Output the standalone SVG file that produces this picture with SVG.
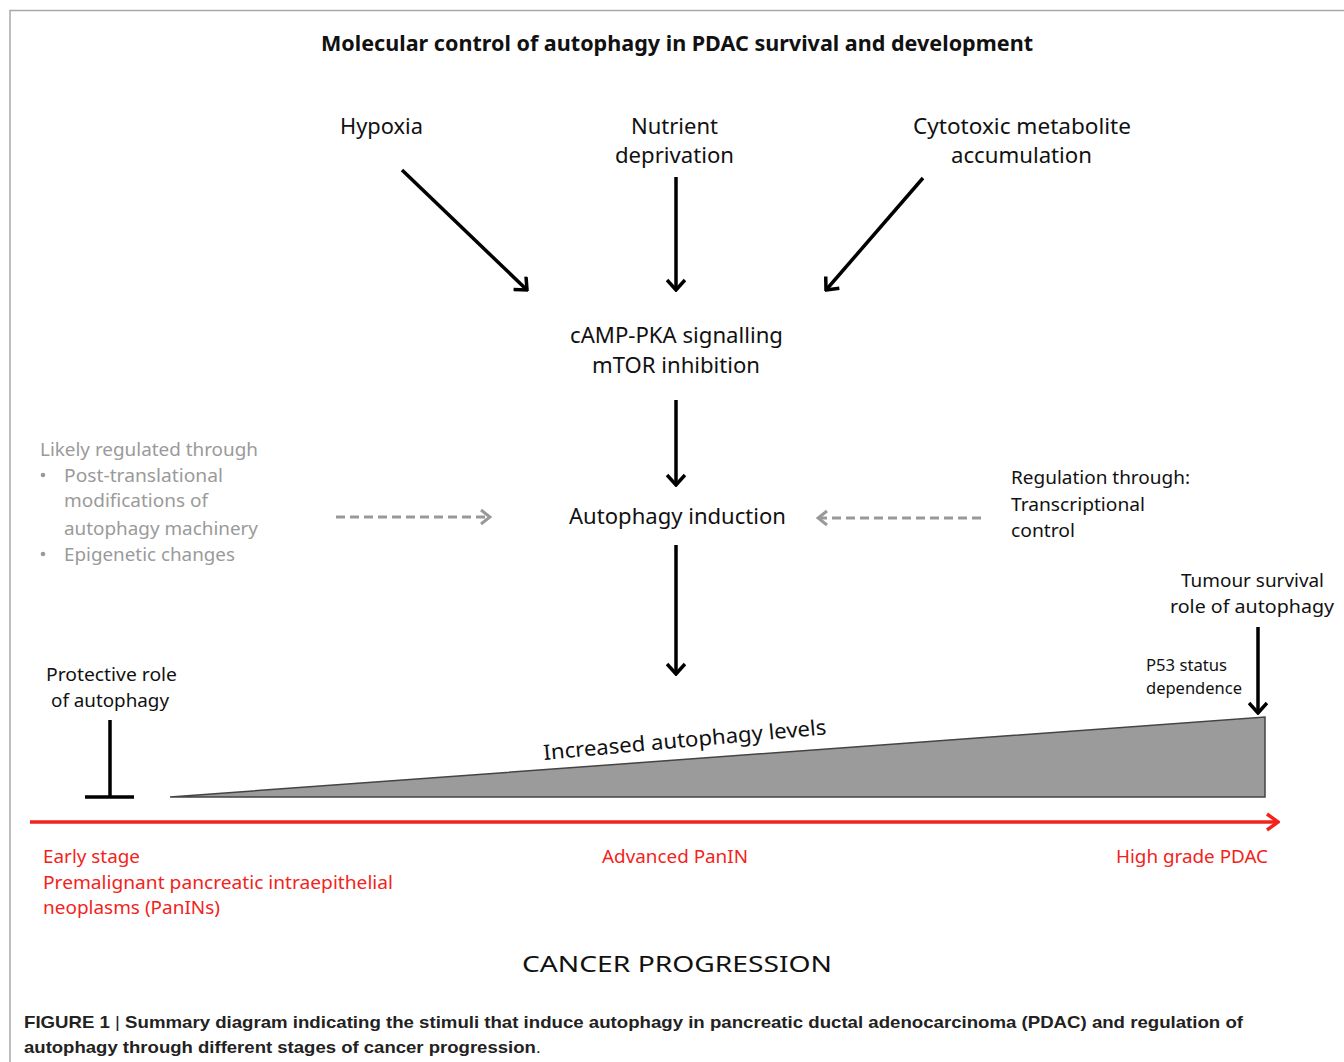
<svg xmlns="http://www.w3.org/2000/svg" width="1344" height="1062" viewBox="0 0 1344 1062">
<style>
.t{font-family:"Noto Sans","Open Sans",sans-serif;font-size:21px;fill:#111}
.g{fill:#9a9a9a;font-size:18px}
.r{fill:#f2231b;font-size:18px}
.m{font-size:18px}
.s{font-size:16px}
.cap{font-family:"Liberation Sans",Arial,sans-serif;font-size:17px;font-weight:bold;fill:#222}
.ar{stroke:#000;stroke-width:3.5;fill:none}
.da{stroke:#999;stroke-width:3;fill:none;stroke-dasharray:9 5}
</style>
<defs>
<marker id="mb" viewBox="-12 -10 14 20" markerWidth="14" markerHeight="20" refX="0" refY="0" orient="auto" markerUnits="userSpaceOnUse">
<path d="M-10,-9 L0,0 L-10,9" fill="none" stroke="#000" stroke-width="3.5"/>
</marker>
<marker id="mg" viewBox="-12 -10 14 20" markerWidth="14" markerHeight="20" refX="0" refY="0" orient="auto" markerUnits="userSpaceOnUse">
<path d="M-9,-7 L0,0 L-9,7" fill="none" stroke="#999" stroke-width="3"/>
</marker>
<marker id="mr" viewBox="-14 -10 16 20" markerWidth="16" markerHeight="20" refX="0" refY="0" orient="auto" markerUnits="userSpaceOnUse">
<path d="M-11,-8 L0,0 L-11,8" fill="none" stroke="#f2231b" stroke-width="3.5"/>
</marker>
</defs>
<rect width="1344" height="1062" fill="#fff"/>
<path d="M10,1062 V10.5 H1344" fill="none" stroke="#a8a8a8" stroke-width="1.5"/>

<text class="t" x="321" y="51" font-weight="bold" textLength="712" lengthAdjust="spacingAndGlyphs">Molecular control of autophagy in PDAC survival and development</text>

<g id="hypoxia"><text class="t" x="340" y="134" textLength="83" lengthAdjust="spacingAndGlyphs">Hypoxia</text></g>
<g id="nutrient"><text class="t" x="631" y="134" textLength="87" lengthAdjust="spacingAndGlyphs">Nutrient</text><text class="t" x="615" y="163" textLength="119" lengthAdjust="spacingAndGlyphs">deprivation</text></g>
<g id="cytotoxic"><text class="t" x="913" y="134" textLength="218" lengthAdjust="spacingAndGlyphs">Cytotoxic metabolite</text><text class="t" x="951" y="163" textLength="141" lengthAdjust="spacingAndGlyphs">accumulation</text></g>
<g id="camp"><text class="t" x="570" y="343" textLength="213" lengthAdjust="spacingAndGlyphs">cAMP-PKA signalling</text><text class="t" x="592" y="373" textLength="168" lengthAdjust="spacingAndGlyphs">mTOR inhibition</text></g>
<g id="induction"><text class="t" x="569" y="524" textLength="217" lengthAdjust="spacingAndGlyphs">Autophagy induction</text></g>
<g id="likely">
<text class="t g" x="40" y="456" textLength="218" lengthAdjust="spacingAndGlyphs">Likely regulated through</text>
<circle cx="43" cy="475" r="2.3" fill="#9a9a9a"/>
<text class="t g" x="64" y="482" textLength="159" lengthAdjust="spacingAndGlyphs">Post-translational</text>
<text class="t g" x="64" y="507" textLength="144" lengthAdjust="spacingAndGlyphs">modifications of</text>
<text class="t g" x="64" y="535" textLength="194" lengthAdjust="spacingAndGlyphs">autophagy machinery</text>
<circle cx="43" cy="554" r="2.3" fill="#9a9a9a"/>
<text class="t g" x="64" y="561" textLength="171" lengthAdjust="spacingAndGlyphs">Epigenetic changes</text>
</g>
<g id="regulation">
<text class="t m" x="1011" y="484" textLength="179" lengthAdjust="spacingAndGlyphs">Regulation through:</text>
<text class="t m" x="1011" y="511" textLength="134" lengthAdjust="spacingAndGlyphs">Transcriptional</text>
<text class="t m" x="1011" y="537" textLength="64" lengthAdjust="spacingAndGlyphs">control</text>
</g>
<g id="tumour">
<text class="t m" x="1181" y="587" textLength="143" lengthAdjust="spacingAndGlyphs">Tumour survival</text>
<text class="t m" x="1170" y="613" textLength="164" lengthAdjust="spacingAndGlyphs">role  of autophagy</text>
</g>
<g id="p53">
<text class="t s" x="1146" y="671" textLength="81" lengthAdjust="spacingAndGlyphs">P53 status</text>
<text class="t s" x="1146" y="694" textLength="96" lengthAdjust="spacingAndGlyphs">dependence</text>
</g>
<g id="protective">
<text class="t m" x="46" y="681" textLength="131" lengthAdjust="spacingAndGlyphs">Protective role</text>
<text class="t m" x="51" y="707" textLength="118" lengthAdjust="spacingAndGlyphs">of autophagy</text>
</g>
<g id="levels">
<polygon points="170,797 1265,717 1265,797" fill="#9b9b9b" stroke="#444" stroke-width="1.5"/>
<text class="t" x="0" y="0" transform="translate(544,760) rotate(-5.2)" textLength="284" lengthAdjust="spacingAndGlyphs">Increased autophagy levels</text>
</g>
<g id="stages">
<text class="t r" x="43" y="863" textLength="97" lengthAdjust="spacingAndGlyphs">Early stage</text>
<text class="t r" x="43" y="889" textLength="350" lengthAdjust="spacingAndGlyphs">Premalignant pancreatic intraepithelial</text>
<text class="t r" x="43" y="914" textLength="177" lengthAdjust="spacingAndGlyphs">neoplasms (PanINs)</text>
<text class="t r" x="602" y="863" textLength="146" lengthAdjust="spacingAndGlyphs">Advanced PanIN</text>
<text class="t r" x="1116" y="863" textLength="152" lengthAdjust="spacingAndGlyphs">High grade PDAC</text>
</g>
<g id="progression"><text class="t" x="522" y="972" font-size="29" textLength="310" lengthAdjust="spacingAndGlyphs">CANCER PROGRESSION</text></g>

<g id="connectors">
<line class="ar" x1="402" y1="170" x2="527" y2="290" marker-end="url(#mb)"/>
<line class="ar" x1="676" y1="177" x2="676" y2="290" marker-end="url(#mb)"/>
<line class="ar" x1="923" y1="178" x2="826" y2="290" marker-end="url(#mb)"/>
<line class="ar" x1="676" y1="400" x2="676" y2="485" marker-end="url(#mb)"/>
<line class="ar" x1="676" y1="545" x2="676" y2="674" marker-end="url(#mb)"/>
<line class="ar" x1="1258" y1="627" x2="1258" y2="713" marker-end="url(#mb)"/>
<line class="da" x1="336" y1="517" x2="490" y2="517" marker-end="url(#mg)"/>
<line class="da" x1="981" y1="518" x2="818" y2="518" marker-end="url(#mg)"/>
<path d="M110,720 V797 M85,797 H134" stroke="#000" stroke-width="3.5" fill="none"/>
<line x1="30" y1="822" x2="1278" y2="822" stroke="#f2231b" stroke-width="3.5" marker-end="url(#mr)"/>
</g>

<g id="caption">
<text class="cap" x="24" y="1028" textLength="1219" lengthAdjust="spacingAndGlyphs">FIGURE 1 <tspan font-weight="normal">|</tspan> Summary diagram indicating the stimuli that induce autophagy in pancreatic ductal adenocarcinoma (PDAC) and regulation of</text>
<text class="cap" x="24" y="1053" textLength="517" lengthAdjust="spacingAndGlyphs">autophagy through different stages of cancer progression<tspan font-weight="normal">.</tspan></text>
</g>
</svg>
